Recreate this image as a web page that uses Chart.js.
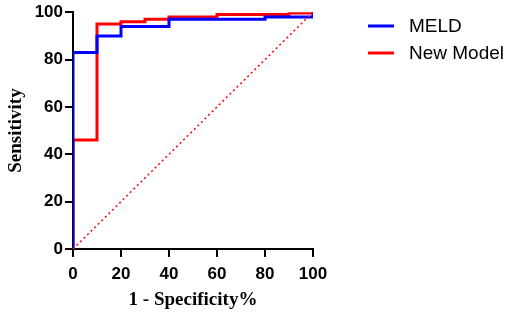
<!DOCTYPE html>
<html>
<head>
<meta charset="utf-8">
<script src="https://cdn.jsdelivr.net/npm/chart.js@4"></script>
<style>
  html, body { margin: 0; padding: 0; background: #fff; }
  #wrap { width: 510px; height: 315px; }
</style>
</head>
<body>
<div id="wrap"><canvas id="roc" width="510" height="315"></canvas></div>
<script>
// ROC step points (1 - specificity %, sensitivity)
const meldX = [0, 0, 10, 20, 40, 80, 100];
const meldY = [0, 83, 90, 94, 97, 98, 100];
const newModelX = [0, 0, 10, 20, 30, 40, 60, 90, 100];
const newModelY = [0, 46, 95, 96, 97, 98, 99, 99.7, 100];
const refX = [0, 100];
const refY = [0, 100];
const tickValues = [0, 20, 40, 60, 80, 100];

const toPoints = (xs, ys) => xs.map((x, i) => ({ x, y: ys[i] }));

// simple legend to the right of the plot
const sideLegend = {
  id: 'sideLegend',
  afterDraw(chart) {
    const c = chart.ctx;
    const items = [
      { label: 'MELD', color: '#0000ff', y: 26 },
      { label: 'New Model', color: '#ff0000', y: 53 }
    ];
    c.save();
    c.font = '19px "Liberation Sans", Arial, sans-serif';
    c.textBaseline = 'middle';
    items.forEach(it => {
      c.strokeStyle = it.color;
      c.lineWidth = 3;
      c.beginPath();
      c.moveTo(368, it.y);
      c.lineTo(394, it.y);
      c.stroke();
      c.fillStyle = '#000';
      c.fillText(it.label, 409, it.y + 1);
    });
    c.restore();
  }
};

const tickFont = { family: 'Arial, "Liberation Sans", sans-serif', size: 17, weight: 700 };
const titleFont = { family: '"Liberation Serif", "Times New Roman", serif', size: 19, weight: 700 };

new Chart(document.getElementById('roc'), {
  type: 'line',
  data: {
    datasets: [
      {
        label: 'Reference',
        data: toPoints(refX, refY),
        borderColor: '#ff0000',
        borderWidth: 1.5,
        borderDash: [2, 3],
        pointRadius: 0,
        fill: false
      },
      {
        label: 'MELD',
        data: toPoints(meldX, meldY),
        borderColor: '#0000ff',
        borderWidth: 3,
        stepped: 'before',
        pointRadius: 0,
        fill: false
      },
      {
        label: 'New Model',
        data: toPoints(newModelX, newModelY),
        borderColor: '#ff0000',
        borderWidth: 3,
        stepped: 'before',
        pointRadius: 0,
        fill: false
      }
    ]
  },
  options: {
    responsive: false,
    animation: false,
    layout: { padding: { left: 0, right: 197, top: 10, bottom: 0 } },
    scales: {
      x: {
        type: 'linear',
        min: 0,
        max: 100,
        afterBuildTicks: s => { s.ticks = tickValues.map(v => ({ value: v })); },
        afterFit: s => { s.height = 66; },
        border: { color: '#000', width: 2 },
        grid: { drawOnChartArea: false, drawTicks: true, tickLength: 8, color: '#000', lineWidth: 2 },
        ticks: { color: '#000', font: tickFont, padding: 7, maxRotation: 0 },
        title: { display: true, text: '1 - Specificity%', color: '#000', font: titleFont, padding: { top: 0, bottom: 4 } }
      },
      y: {
        type: 'linear',
        min: 0,
        max: 100,
        afterBuildTicks: s => { s.ticks = tickValues.map(v => ({ value: v })); },
        afterFit: s => { s.width = 73; },
        border: { color: '#000', width: 2 },
        grid: { drawOnChartArea: false, drawTicks: true, tickLength: 8, color: '#000', lineWidth: 2 },
        ticks: { color: '#000', font: tickFont, padding: 2 },
        title: { display: true, text: 'Sensitivity', color: '#000', font: titleFont, padding: { top: 5, bottom: 2 } }
      }
    },
    plugins: {
      legend: { display: false },
      tooltip: { enabled: false }
    }
  },
  plugins: [sideLegend]
});
</script>
</body>
</html>
